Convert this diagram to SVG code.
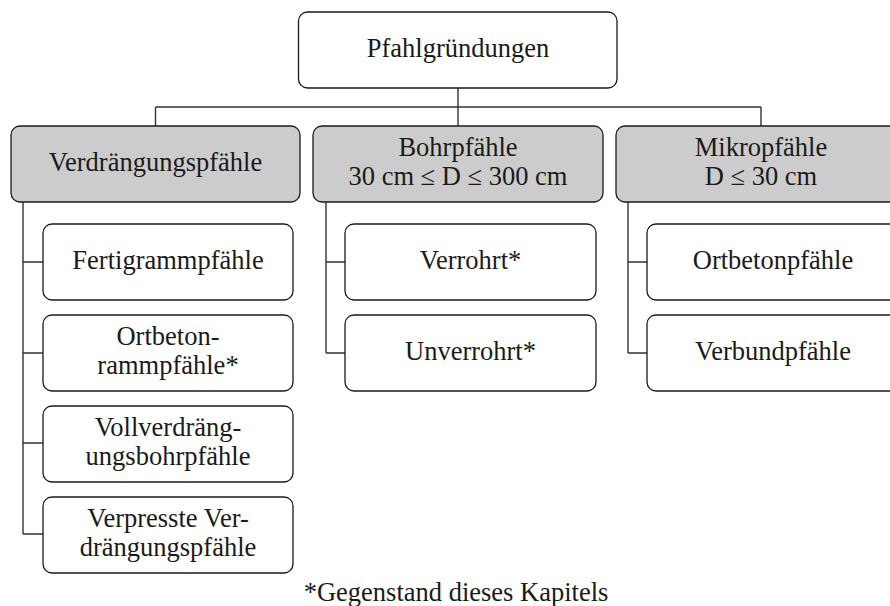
<svg xmlns="http://www.w3.org/2000/svg" width="890" height="606" viewBox="0 0 890 606">
<style>
  .box { fill: #ffffff; stroke: #1a1a1a; stroke-width: 1.3; }
  .gray { fill: #cccccc; stroke: #1a1a1a; stroke-width: 1.3; }
  .t { font-family: "Liberation Serif", "Times New Roman", serif; font-size: 26.5px; fill: #1a1a1a; text-anchor: middle; }
  .conn { fill: none; stroke: #333333; stroke-width: 1.4; }
</style>
<rect width="890" height="606" fill="#ffffff"/>
<g id="connectors">
  <path class="conn" d="M458,88 V126 M155.5,107 H761 M155.5,107 V126 M761,107 V126"/>
  <path class="conn" d="M23,202 V534 M23,262 H43 M23,353 H43 M23,443 H43 M23,534 H43"/>
  <path class="conn" d="M326,202 V353 M326,262 H345 M326,353 H345"/>
  <path class="conn" d="M628,202 V353 M628,262 H647 M628,353 H647"/>
</g>
<g id="root">
  <rect class="box" x="298.5" y="12" width="318.5" height="76" rx="9"/>
  <text class="t" x="458" y="57">Pfahlgründungen</text>
</g>
<g id="verdraengung">
  <rect class="gray" x="11" y="126" width="289" height="76" rx="9"/>
  <text class="t" x="155.5" y="171">Verdrängungspfähle</text>
</g>
<g id="bohr">
  <rect class="gray" x="313" y="126" width="290" height="76" rx="9"/>
  <text class="t" x="458" y="156">Bohrpfähle</text>
  <text class="t" x="458" y="185">30 cm ≤ D ≤ 300 cm</text>
</g>
<g id="mikro">
  <rect class="gray" x="616" y="126" width="290" height="76" rx="9"/>
  <text class="t" x="761" y="156">Mikropfähle</text>
  <text class="t" x="761" y="185">D ≤ 30 cm</text>
</g>
<g id="fertig">
  <rect class="box" x="43" y="224" width="250" height="76" rx="9"/>
  <text class="t" x="168" y="269">Fertigrammpfähle</text>
</g>
<g id="ortbetonramm">
  <rect class="box" x="43" y="315" width="250" height="76" rx="9"/>
  <text class="t" x="168" y="345">Ortbeton-</text>
  <text class="t" x="168" y="374">rammpfähle*</text>
</g>
<g id="vollverdraengung">
  <rect class="box" x="43" y="406" width="250" height="76" rx="9"/>
  <text class="t" x="168" y="436">Vollverdräng-</text>
  <text class="t" x="168" y="465">ungsbohrpfähle</text>
</g>
<g id="verpresste">
  <rect class="box" x="43" y="497" width="250" height="76" rx="9"/>
  <text class="t" x="168" y="527">Verpresste Ver-</text>
  <text class="t" x="168" y="556">drängungspfähle</text>
</g>
<g id="verrohrt">
  <rect class="box" x="345" y="224" width="251" height="76" rx="9"/>
  <text class="t" x="470.5" y="269">Verrohrt*</text>
</g>
<g id="unverrohrt">
  <rect class="box" x="345" y="315" width="251" height="76" rx="9"/>
  <text class="t" x="470.5" y="360">Unverrohrt*</text>
</g>
<g id="ortbetonpfaehle">
  <rect class="box" x="647" y="224" width="252" height="76" rx="9"/>
  <text class="t" x="773" y="269">Ortbetonpfähle</text>
</g>
<g id="verbund">
  <rect class="box" x="647" y="315" width="252" height="76" rx="9"/>
  <text class="t" x="773" y="360">Verbundpfähle</text>
</g>
<text class="t" x="456" y="601">*Gegenstand dieses Kapitels</text>
</svg>
